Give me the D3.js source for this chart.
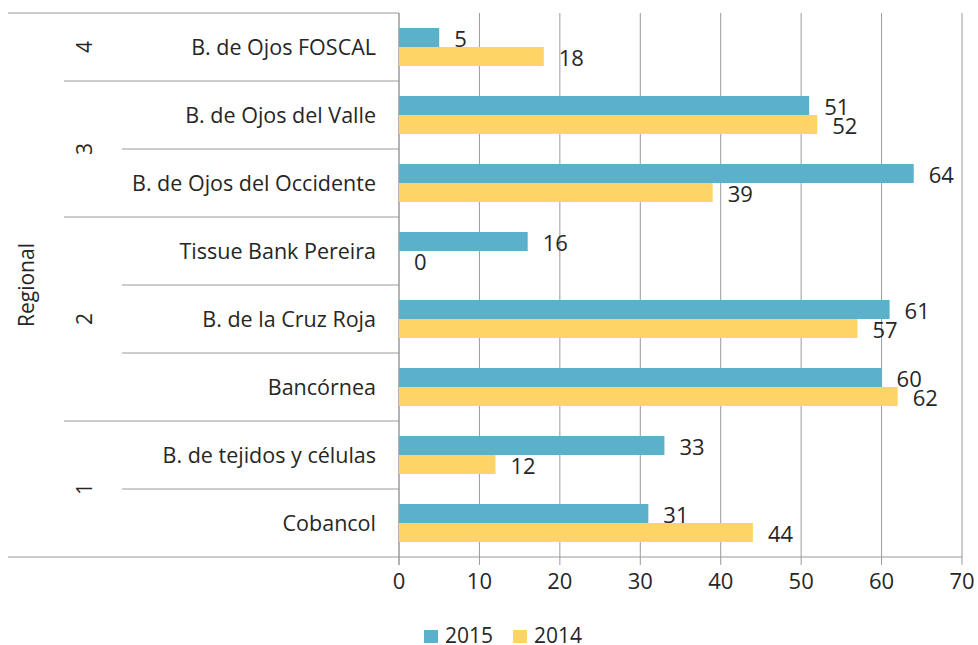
<!DOCTYPE html>
<html>
<head>
<meta charset="utf-8">
<script src="https://cdn.jsdelivr.net/npm/d3@7"></script>
<style>
    body { margin: 0; background: #fff; }
    text { font-family: "Open Sans", Lato, sans-serif; fill: #262626; }
</style>
</head>
<body>
<div id="chart"></div>
<script>
// Categories top to bottom
const categories = [
    "B. de Ojos FOSCAL",
    "B. de Ojos del Valle",
    "B. de Ojos del Occidente",
    "Tissue Bank Pereira",
    "B. de la Cruz Roja",
    "Bancórnea",
    "B. de tejidos y células",
    "Cobancol"
];
const regions = ["4", "3", "3", "2", "2", "2", "1", "1"];
const seriesNames = ["2015", "2014"];
const values2015 = [5, 51, 64, 16, 61, 60, 33, 31];
const values2014 = [18, 52, 39, 0, 57, 62, 12, 44];
const xTicks = [0, 10, 20, 30, 40, 50, 60, 70];
const colors = { "2015": "#5BB1CB", "2014": "#FFD466" };

const W = 978, H = 645;
const plot = { left: 399, right: 962, top: 13, bottom: 557 };
const lineColor = "#9a9a9a";
const catSize = 21.5;
const labelSize = 21;
const numSize = 22;

const svg = d3.select("#chart").append("svg")
    .attr("width", W)
    .attr("height", H);

const x = d3.scaleLinear()
    .domain([0, 70])
    .range([plot.left, plot.right]);

const y = d3.scaleBand()
    .domain(categories)
    .range([plot.top, plot.bottom])
    .padding(0);

const ySub = d3.scaleBand()
    .domain(seriesNames)
    .range([0, y.bandwidth()])
    .paddingInner(0)
    .paddingOuter(0.79);

// vertical gridlines (with ticks below axis)
svg.append("g")
    .selectAll("line")
    .data(xTicks)
    .enter().append("line")
    .attr("x1", d => x(d))
    .attr("x2", d => x(d))
    .attr("y1", plot.top)
    .attr("y2", plot.bottom + 8)
    .attr("stroke", lineColor)
    .attr("stroke-width", 1);

// x axis baseline
svg.append("line")
    .attr("x1", plot.left).attr("x2", plot.right)
    .attr("y1", plot.bottom).attr("y2", plot.bottom)
    .attr("stroke", lineColor);

// x tick labels
svg.append("g")
    .selectAll("text")
    .data(xTicks)
    .enter().append("text")
    .attr("x", d => x(d))
    .attr("y", plot.bottom + 24)
    .attr("dy", "0.35em")
    .attr("text-anchor", "middle")
    .attr("font-size", numSize)
    .text(d => d);

// category frame lines (top/bottom and dividers)
svg.append("line")
    .attr("x1", 8).attr("x2", plot.left)
    .attr("y1", plot.top).attr("y2", plot.top)
    .attr("stroke", lineColor);
svg.append("line")
    .attr("x1", 8).attr("x2", plot.left)
    .attr("y1", plot.bottom).attr("y2", plot.bottom)
    .attr("stroke", lineColor);

for (let i = 1; i < categories.length; i++) {
    const yy = y(categories[i]);
    const newRegion = regions[i] !== regions[i - 1];
    svg.append("line")
        .attr("x1", newRegion ? 64 : 122)
        .attr("x2", plot.left)
        .attr("y1", yy).attr("y2", yy)
        .attr("stroke", lineColor);
}

// y axis line
svg.append("line")
    .attr("x1", plot.left).attr("x2", plot.left)
    .attr("y1", plot.top).attr("y2", plot.bottom + 8)
    .attr("stroke", lineColor);

// category labels
svg.append("g")
    .selectAll("text")
    .data(categories)
    .enter().append("text")
    .attr("x", 376)
    .attr("y", d => y(d) + y.bandwidth() / 2)
    .attr("dy", "0.35em")
    .attr("text-anchor", "end")
    .attr("font-size", catSize)
    .text(d => d);

// region labels, rotated, centered on their span
const regionGroups = d3.groups(categories.map((c, i) => ({ c, r: regions[i] })), d => d.r);
regionGroups.forEach(([r, items]) => {
    const y0 = y(items[0].c);
    const y1 = y(items[items.length - 1].c) + y.bandwidth();
    const cy = (y0 + y1) / 2;
    svg.append("text")
        .attr("transform", `translate(85,${cy}) rotate(-90)`)
        .attr("dy", "0.35em")
        .attr("text-anchor", "middle")
        .attr("font-size", labelSize)
        .text(r);
});

// "Regional" title
svg.append("text")
    .attr("transform", `translate(27,${(plot.top + plot.bottom) / 2}) rotate(-90)`)
    .attr("dy", "0.35em")
    .attr("text-anchor", "middle")
    .attr("font-size", labelSize)
    .text("Regional");

// bars
const rows = categories.map((c, i) => ({
    cat: c,
    vals: [
        { s: "2015", v: values2015[i] },
        { s: "2014", v: values2014[i] }
    ]
}));

const rowG = svg.append("g")
    .selectAll("g")
    .data(rows)
    .enter().append("g")
    .attr("transform", d => `translate(0,${y(d.cat)})`);

rowG.selectAll("rect")
    .data(d => d.vals)
    .enter().append("rect")
    .attr("x", x(0))
    .attr("y", d => ySub(d.s))
    .attr("width", d => x(d.v) - x(0))
    .attr("height", ySub.bandwidth())
    .attr("fill", d => colors[d.s]);

rowG.selectAll("text.val")
    .data(d => d.vals)
    .enter().append("text")
    .attr("class", "val")
    .attr("x", d => x(d.v) + 15)
    .attr("y", d => ySub(d.s) + ySub.bandwidth() / 2 + 2)
    .attr("dy", "0.35em")
    .attr("font-size", numSize)
    .text(d => d.v);

// legend
const legend = svg.append("g")
    .attr("transform", "translate(424,636)");
const legendItems = [
    { s: "2015", x: 0 },
    { s: "2014", x: 89 }
];
legendItems.forEach(it => {
    legend.append("rect")
        .attr("x", it.x)
        .attr("y", -6)
        .attr("width", 14)
        .attr("height", 13)
        .attr("fill", colors[it.s]);
    legend.append("text")
        .attr("x", it.x + 21)
        .attr("y", 0)
        .attr("dy", "0.35em")
        .attr("font-size", 21)
        .text(it.s);
});
</script>
</body>
</html>
